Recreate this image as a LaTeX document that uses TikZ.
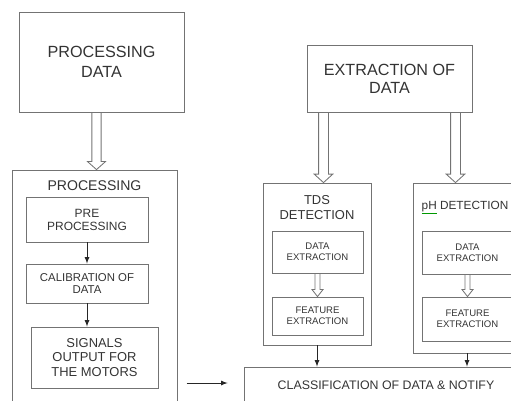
\documentclass[tikz,border=0pt]{standalone}
\usepackage{fontspec}
\setmainfont{Liberation Sans}
\usetikzlibrary{positioning,calc}

\definecolor{boxgray}{gray}{0.45}
\definecolor{txtgray}{gray}{0.2}

% one pixel of the layout
\newcommand{\pu}{0.025cm}
% hollow block arrow: start, end, shaft half width, head half width, head length
\newcommand{\hollowarrow}[5]{%
  \draw[outerbox] let \p1=(#1), \p2=(#2) in
    (\x1-#3,\y1) -- (\x1-#3,\y2+#5) -- (\x1-#4,\y2+#5) -- (\x1,\y2)
    -- (\x1+#4,\y2+#5) -- (\x1+#3,\y2+#5) -- (\x1+#3,\y1);}

\tikzset{
  outerbox/.style={draw=boxgray, line width=0.6pt},
  bigbox/.style={outerbox, align=center, text=txtgray, font=\fontsize{11.5}{14}\selectfont},
  innerbox/.style={outerbox, align=center, text=txtgray},
  headtext/.style={align=center, text=txtgray},
  smalltext/.style={font=\fontsize{6.8}{7.6}\selectfont},
  flow/.style={->, black!85, line width=0.6pt},
}

\begin{document}
\begin{tikzpicture}[x=\pu, y=-\pu, >=latex]
    \useasboundingbox (0,0) rectangle (511,400);
    \clip (0,0) rectangle (511,400);

    % left column
    \node[bigbox, minimum width=165*\pu, minimum height=100*\pu] (procdata) at (101.5,62) {PROCESSING\\DATA};
    \node[outerbox, minimum width=165*\pu, minimum height=250*\pu] (procbox) at (94.5,295) {};
    \node[headtext, font=\fontsize{10}{12}\selectfont] (proclbl) at ($(procbox.north)+(0,16)$) {PROCESSING};
    \node[innerbox, font=\fontsize{8.5}{9.2}\selectfont, minimum width=122*\pu, minimum height=45*\pu] (pre) at (87,219.5) {PRE\\PROCESSING};
    \node[innerbox, font=\fontsize{8.1}{9.2}\selectfont, minimum width=122*\pu, minimum height=39*\pu] (calib) at (87,283.5) {CALIBRATION OF\\DATA};
    \node[innerbox, font=\fontsize{9.2}{10.3}\selectfont, minimum width=127*\pu, minimum height=61*\pu] (signals) at (94.5,357.5) {SIGNALS\\OUTPUT FOR\\THE MOTORS};

    % right part
    \node[bigbox, font=\fontsize{11.5}{12.6}\selectfont, minimum width=165*\pu, minimum height=67*\pu] (extract) at (389.5,78.5) {EXTRACTION OF\\DATA};
    \node[outerbox, minimum width=108*\pu, minimum height=162*\pu] (tds) at (317,264) {};
    \node[headtext, font=\fontsize{9.2}{10.7}\selectfont] (tdslbl) at ($(tds.north)+(0,24.5)$) {TDS\\DETECTION};
    \node[innerbox, smalltext, minimum width=91*\pu, minimum height=42*\pu] (tdsdata) at (317.5,252) {DATA\\EXTRACTION};
    \node[innerbox, smalltext, minimum width=91*\pu, minimum height=38*\pu] (tdsfeat) at (317.5,316) {FEATURE\\EXTRACTION};
    \node[outerbox, minimum width=108*\pu, minimum height=170*\pu] (ph) at (467,268) {};
    \node[headtext, font=\fontsize{8.4}{10}\selectfont] (phlbl) at ($(ph.north)+(-2,25)$) {{\color{green!60!black}\underline{\color{txtgray}pH}} DETECTION};
    \node[innerbox, smalltext, minimum width=91*\pu, minimum height=43*\pu] (phdata) at (467.5,252.5) {DATA\\EXTRACTION};
    \node[innerbox, smalltext, minimum width=91*\pu, minimum height=44*\pu] (phfeat) at (467.5,319) {FEATURE\\EXTRACTION};
    \node[innerbox, font=\fontsize{8.8}{10}\selectfont, minimum width=284*\pu, minimum height=36*\pu] (classify) at (386,385) {CLASSIFICATION OF DATA \& NOTIFY};

    % block arrows
    \hollowarrow{$(procdata.south)+(-5,0)$}{procbox.north}{3.3pt}{6.5pt}{5.8pt}
    \hollowarrow{$(extract.south)+(-66,0)$}{tds.north}{3.5pt}{6.6pt}{6pt}
    \hollowarrow{$(extract.south)+(66,0)$}{ph.north}{3.5pt}{6.6pt}{6pt}
    \hollowarrow{tdsdata.south}{tdsfeat.north}{1.8pt}{3.9pt}{5pt}
    \hollowarrow{phdata.south}{phfeat.north}{1.8pt}{3.9pt}{5pt}

    % thin arrows
    \draw[flow] (pre.south) -- (calib.north);
    \draw[flow] (calib.south) -- (calib.south |- signals.north);
    \draw[flow] (tds.south) -- (tds.south |- classify.north);
    \draw[flow] (ph.south) -- (ph.south |- classify.north);
    \draw[flow] ($(classify.west)+(-57,-2)$) -- ($(classify.west)+(-16,-2)$);
\end{tikzpicture}
\end{document}
